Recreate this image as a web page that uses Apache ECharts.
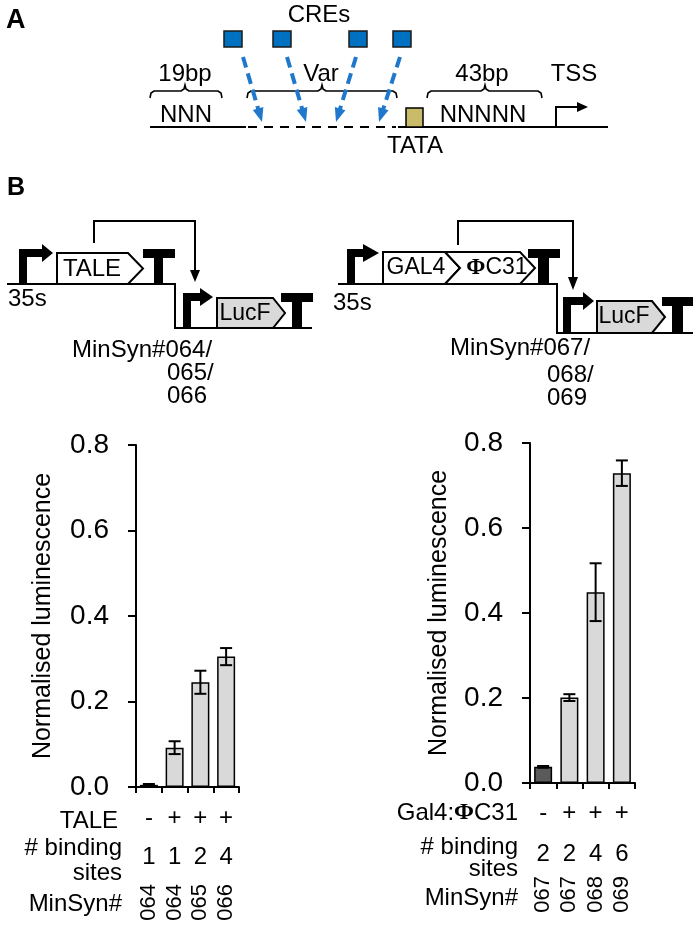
<!DOCTYPE html>
<html><head><meta charset="utf-8">
<script src="https://cdn.jsdelivr.net/npm/echarts/dist/echarts.min.js"></script>
<style>html,body{margin:0;padding:0;background:#fff}#c{width:700px;height:927px}</style>
</head><body><div id="c"></div>
<script>
const FONT = '"Liberation Sans", Arial, Helvetica, sans-serif';
const SERIF = '"Liberation Serif", "Times New Roman", serif';

// ---- data ----
const leftCategories = ['064 no TALE', '064 TALE', '065 TALE', '066 TALE'];
const leftInducer = ['-', '+', '+', '+'];
const leftSites = ['1', '1', '2', '4'];
const leftMinSyn = ['064', '064', '065', '066'];
const leftValues = [0.005, 0.092, 0.245, 0.305];
const leftErrors = [0.002, 0.015, 0.027, 0.020];

const rightCategories = ['067 no Gal4', '067 Gal4', '068 Gal4', '069 Gal4'];
const rightInducer = ['-', '+', '+', '+'];
const rightSites = ['2', '2', '4', '6'];
const rightMinSyn = ['067', '067', '068', '069'];
const rightValues = [0.038, 0.201, 0.449, 0.729];
const rightErrors = [0.002, 0.008, 0.068, 0.030];

const yMin = 0, yMax = 0.8, yStep = 0.2;
const yName = 'Normalised luminescence';

// ---- helpers for diagrams ----
const G = [];
function txt(x, y, text, size, opts) {
  opts = opts || {};
  G.push({type: 'text', z: 10, style: Object.assign({x, y, text, font: (opts.bold ? 'bold ' : '') + size + 'px ' + FONT,
    fill: '#000', align: opts.align || 'center', verticalAlign: 'middle'}, opts.extra || {})});
}
function rect(x, y, w, h, fill, stroke, lw) {
  G.push({type: 'rect', shape: {x, y, width: w, height: h}, style: {fill: fill, stroke: stroke || null, lineWidth: lw || 0}});
}
function poly(points, fill, stroke, lw) {
  G.push({type: 'polygon', shape: {points}, style: {fill: fill, stroke: stroke || null, lineWidth: lw || 0, lineJoin: 'miter'}});
}
function pline(points, lw, color, dash) {
  G.push({type: 'polyline', shape: {points}, style: {fill: null, stroke: color || '#000', lineWidth: lw, lineDash: dash || null, lineCap: 'butt'}});
}
function arrowLine(x1, y1, x2, y2, lw, color, dash, hl, hw) {
  const dx = x2 - x1, dy = y2 - y1, L = Math.sqrt(dx * dx + dy * dy);
  const ux = dx / L, uy = dy / L, px = -uy, py = ux;
  const bx = x2 - ux * hl, by = y2 - uy * hl;
  pline([[x1, y1], [bx + ux, by + uy]], lw, color, dash);
  poly([[x2, y2], [bx + px * hw / 2, by + py * hw / 2], [bx - px * hw / 2, by - py * hw / 2]], color);
}
function brace(x1, x2, y, mid) {
  pline([[x1, y + 7], [x1 + 1, y + 2], [x1 + 4, y], [mid - 4, y], [mid - 1, y - 2], [mid, y - 6], [mid + 1, y - 2], [mid + 4, y], [x2 - 4, y], [x2 - 1, y + 2], [x2, y + 7]], 1.6);
}
function promoter(x, yTop, yBase, hEnd, tipX) {
  rect(x, yTop, 8, yBase - yTop, '#000');
  rect(x, yTop, hEnd - x, 8, '#000');
  poly([[hEnd, yTop - 5], [tipX, yTop + 4], [hEnd, yTop + 13]], '#000');
}
function terminator(x1, x2, yTop, yBase, sx, sw) {
  rect(x1, yTop, x2 - x1, 9, '#000');
  rect(sx, yTop, sw, yBase - yTop, '#000');
}
function gene(x1, xp, xt, yT, yB, fill) {
  poly([[x1, yT], [xp, yT], [xt, (yT + yB) / 2], [xp, yB], [x1, yB]], fill, '#000', 2);
}

// ---- Panel A ----
txt(6, 21, 'A', 27, {bold: true, align: 'left'});
pline([[150, 127], [246, 127]], 2);
pline([[248, 127], [396, 127]], 2, '#000', [9, 7]);
pline([[398, 127], [608, 127]], 2);
rect(406, 108, 17, 19, '#c9bb6a', '#000', 1.5);
txt(415, 146, 'TATA', 24);
txt(186, 115, 'NNN', 24);
txt(483, 115, 'NNNNN', 24);
brace(150, 222, 91, 185);
brace(247, 397, 91, 322);
brace(427, 542, 91, 485);
txt(185, 74, '19bp', 24);
txt(321, 74, 'Var', 24);
txt(482, 74, '43bp', 24);
txt(574, 74, 'TSS', 24);
txt(319, 15, 'CREs', 24);
[224, 273, 349, 393].forEach(x => rect(x, 31, 18, 16, '#0070c0', '#1a1a1a', 1.5));
const BLUE = '#1f78cc';
arrowLine(243, 57, 262, 122, 4, BLUE, [11, 6], 14, 11);
arrowLine(287, 57, 306, 122, 4, BLUE, [11, 6], 14, 11);
arrowLine(356, 57, 336, 122, 4, BLUE, [11, 6], 14, 11);
arrowLine(400, 57, 379, 122, 4, BLUE, [11, 6], 14, 11);
pline([[556, 127], [556, 107], [578, 107]], 2);
poly([[577, 102], [588, 107], [577, 112]], '#000');

// ---- Panel B left construct ----
txt(7, 188, 'B', 25, {bold: true, align: 'left'});
pline([[7, 284], [175, 284], [175, 328], [312, 328]], 2);
promoter(19, 249, 284, 42, 53);
gene(57, 128, 143, 253, 284, '#fff');
txt(92, 269, 'TALE', 24);
terminator(143, 175, 249, 284, 154, 9);
pline([[94, 243], [94, 221], [195, 221], [195, 272]], 2);
poly([[190, 270], [200, 270], [195, 282]], '#000');
txt(8, 299, '35s', 24, {align: 'left'});
promoter(183, 293, 328, 200, 213);
gene(217, 273, 285, 298, 328, '#d9d9d9');
txt(245, 314, 'LucF', 23);
terminator(281, 313, 293, 328, 292, 10);
txt(72, 350, 'MinSyn#064/', 24, {align: 'left'});
txt(167, 373, '065/', 24, {align: 'left'});
txt(167, 396, '066', 24, {align: 'left'});

// ---- Panel B right construct ----
pline([[338, 284], [557, 284], [557, 333], [693, 333]], 2);
promoter(347, 249, 284, 363, 379);
gene(383, 445, 460, 252, 284, '#fff');
poly([[445, 252], [520, 252], [535, 268], [520, 284], [445, 284], [460, 268]], '#fff', '#000', 2);
txt(416, 268, 'GAL4', 23);
G.push({type: 'text', z: 10, style: {x: 497, y: 268, text: '{b|Φ}{a|C31}', align: 'center', verticalAlign: 'middle',
  rich: {a: {font: '23px ' + FONT, fill: '#000'}, b: {font: 'bold 23px ' + SERIF, fill: '#000'}}}});
terminator(528, 560, 249, 284, 538, 11);
pline([[458, 245], [458, 221], [573, 221], [573, 279]], 2);
poly([[568, 277], [578, 277], [573, 290]], '#000');
txt(333, 303, '35s', 24, {align: 'left'});
promoter(563, 297, 333, 583, 594);
gene(597, 652, 665, 301, 333, '#d9d9d9');
txt(624, 317, 'LucF', 23);
terminator(662, 693, 297, 333, 672, 11);
txt(450, 348, 'MinSyn#067/', 24, {align: 'left'});
txt(547, 375, '068/', 24, {align: 'left'});
txt(547, 398, '069', 24, {align: 'left'});

// ---- row headers under charts ----
txt(118, 821, 'TALE', 24, {align: 'right'});
txt(122, 848, '# binding', 24, {align: 'right'});
txt(122, 873, 'sites', 24, {align: 'right'});
txt(122, 904, 'MinSyn#', 24, {align: 'right'});
G.push({type: 'text', z: 10, style: {x: 518, y: 813, text: '{a|Gal4:}{b|Φ}{a|C31}', align: 'right', verticalAlign: 'middle',
  rich: {a: {font: '24px ' + FONT, fill: '#000'}, b: {font: 'bold 24px ' + SERIF, fill: '#000'}}}});
txt(518, 847, '# binding', 24, {align: 'right'});
txt(518, 869, 'sites', 24, {align: 'right'});
txt(518, 898, 'MinSyn#', 24, {align: 'right'});

// ---- chart parts ----
function yAxis(gridIndex, gap) {
  return {type: 'value', gridIndex, min: yMin, max: yMax, interval: yStep,
    name: yName, nameLocation: 'middle', nameGap: gap, nameRotate: 90,
    nameTextStyle: {fontFamily: FONT, fontSize: 25, color: '#000'},
    axisLine: {show: true, lineStyle: {color: '#000', width: 2}},
    axisTick: {show: true, length: 8, lineStyle: {color: '#000', width: 2}},
    axisLabel: {fontFamily: FONT, fontSize: 28, color: '#000', margin: 27, formatter: v => v.toFixed(1)},
    splitLine: {show: false}};
}
function xAxes(gridIndex, cats, inducer, sites, ids, m1, m2, m3) {
  return [
    {type: 'category', gridIndex, data: cats, position: 'bottom',
      axisLine: {show: true, onZero: false, lineStyle: {color: '#000', width: 2}},
      axisTick: {show: true, length: 6, lineStyle: {color: '#000', width: 2}},
      axisLabel: {interval: 0, fontFamily: FONT, fontSize: 24, lineHeight: 24, color: '#000', margin: m1, formatter: (v, i) => inducer[i]}},
    {type: 'category', gridIndex, data: cats, position: 'bottom', offset: 30,
      axisLine: {show: false}, axisTick: {show: false},
      axisLabel: {interval: 0, fontFamily: FONT, fontSize: 24, lineHeight: 24, color: '#000', margin: m2, formatter: (v, i) => sites[i]}},
    {type: 'category', gridIndex, data: cats, position: 'bottom', offset: 60,
      axisLine: {show: false}, axisTick: {show: false},
      axisLabel: {interval: 0, rotate: 90, fontFamily: FONT, fontSize: 22, color: '#000', margin: m3, formatter: (v, i) => ids[i]}}
  ];
}
function errRender(params, api) {
  const x = api.value(0);
  const lo = api.coord([x, api.value(1)]);
  const hi = api.coord([x, api.value(2)]);
  const cw = 6, st = {stroke: '#000', lineWidth: 2};
  return {type: 'group', children: [
    {type: 'line', shape: {x1: lo[0], y1: lo[1], x2: hi[0], y2: hi[1]}, style: st},
    {type: 'line', shape: {x1: hi[0] - cw, y1: hi[1], x2: hi[0] + cw, y2: hi[1]}, style: st},
    {type: 'line', shape: {x1: lo[0] - cw, y1: lo[1], x2: lo[0] + cw, y2: lo[1]}, style: st}
  ]};
}
function barSeries(xi, yi, vals, firstColor) {
  return {type: 'bar', xAxisIndex: xi, yAxisIndex: yi, barWidth: 18, silent: true,
    itemStyle: {borderColor: '#000', borderWidth: 1.5},
    data: vals.map((v, i) => ({value: v, itemStyle: {color: i === 0 ? firstColor : '#d9d9d9'}}))};
}
function errSeries(xi, yi, vals, errs) {
  return {type: 'custom', xAxisIndex: xi, yAxisIndex: yi, z: 5, silent: true, renderItem: errRender,
    encode: {x: 0, y: [1, 2]},
    data: vals.map((v, i) => [i, v - errs[i], v + errs[i]])};
}

const chart = echarts.init(document.getElementById('c'), null, {renderer: 'canvas'});
chart.setOption({
  backgroundColor: '#fff',
  animation: false,
  textStyle: {fontFamily: FONT},
  grid: [
    {left: 136, top: 445, width: 103, height: 342, outerBoundsMode: 'none', containLabel: false},
    {left: 530, top: 443, width: 105, height: 340, outerBoundsMode: 'none', containLabel: false}
  ],
  xAxis: [].concat(
    xAxes(0, leftCategories, leftInducer, leftSites, leftMinSyn, 19, 28, 37),
    xAxes(1, rightCategories, rightInducer, rightSites, rightMinSyn, 18, 29, 33)
  ),
  yAxis: [yAxis(0, 80), yAxis(1, 78)],
  series: [
    barSeries(0, 0, leftValues, '#1e1e1e'),
    errSeries(0, 0, leftValues, leftErrors),
    barSeries(3, 1, rightValues, '#5a5a5a'),
    errSeries(3, 1, rightValues, rightErrors)
  ],
  graphic: {elements: G}
});
</script></body></html>
